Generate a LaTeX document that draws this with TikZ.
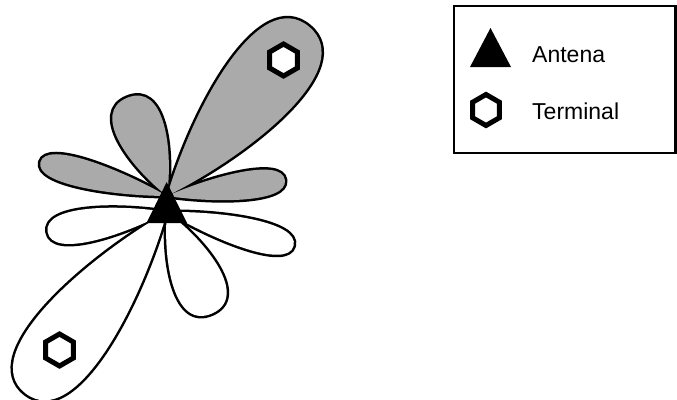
\documentclass[tikz,border=0pt]{standalone}
\usepackage{fontspec}
\setmainfont{Liberation Sans}
\definecolor{lobegray}{RGB}{170,170,170}
\begin{document}
\begin{tikzpicture}[x=1pt,y=-1pt,
  lobeline/.style={line width=5pt,line join=round},
  hexmark/.style={draw=black,line width=5pt,line join=miter,fill=white},
  legtext/.style={anchor=base west,inner sep=0pt,font=\fontsize{23}{27}\selectfont}]
\useasboundingbox (0,0) rectangle (677,399);
\newcommand\lobeshape[2]{(0,0) .. controls ({0.4*#1},{0.6*#2}) and (#1,#2) .. (#1,0) .. controls (#1,{-#2}) and ({0.4*#1},{-0.6*#2}) .. (0,0)}
\newcommand\hexagon[3]{(#1,{#2-#3}) -- ++(30:#3) -- ++(90:#3) -- ++(150:#3) -- ++(210:#3) -- ++(270:#3) -- cycle}
% origin x, origin y, angle, length, width
\def\whitelobes{167/212/189.5/121/27, 167/212/-15/131/25, 167/212/-66/111/41, 167/212/232/230/62}
\def\graylobes{167/196/50/221/64, 167/196/112/106/40, 167/196/165/131/23, 167/196/7.7/119/23}
\foreach \ox/\oy/\a/\L/\w in \whitelobes {
  \begin{scope}[shift={(\ox,\oy)},rotate=\a]
    \draw[lobeline] \lobeshape{\L}{\w};
  \end{scope}}
\foreach \ox/\oy/\a/\L/\w in \whitelobes {
  \begin{scope}[shift={(\ox,\oy)},rotate=\a]
    \fill[white] \lobeshape{\L}{\w};
  \end{scope}}
\foreach \ox/\oy/\a/\L/\w in \graylobes {
  \begin{scope}[shift={(\ox,\oy)},rotate=\a]
    \draw[lobeline] \lobeshape{\L}{\w};
  \end{scope}}
\foreach \ox/\oy/\a/\L/\w in \graylobes {
  \begin{scope}[shift={(\ox,\oy)},rotate=\a]
    \fill[lobegray] \lobeshape{\L}{\w};
  \end{scope}}
% antenna
\fill (166.7,182) -- (187,223) -- (146.5,223) -- cycle;
% terminals
\draw[hexmark] \hexagon{283.5}{60}{16};
\draw[hexmark] \hexagon{59.5}{350}{16};
% legend
\draw[line width=2.5pt] (454,6) rectangle (675.5,153);
\fill (490.5,28) -- (511,67) -- (470,67) -- cycle;
\draw[hexmark] \hexagon{486}{110}{15.5};
\node[legtext] (ant) at (532,62) {Antena};
\node[legtext] (term) at (532,119) {Terminal};
\end{tikzpicture}
\end{document}
